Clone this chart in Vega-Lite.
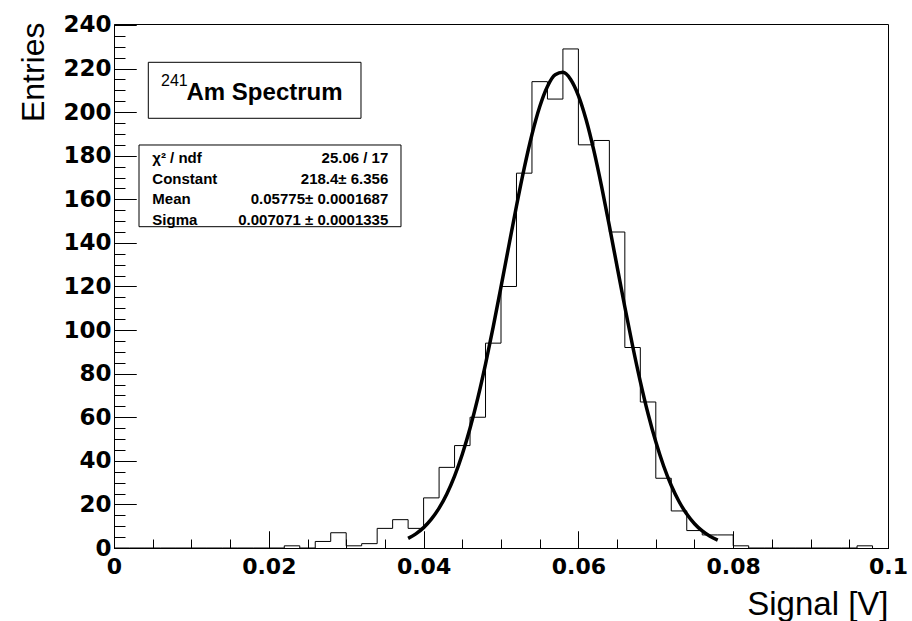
{
  "$schema": "https://vega.github.io/schema/vega-lite/v6.json",
  "width": 774,
  "height": 524,
  "autosize": {"type": "none"},
  "padding": {"left": 114, "top": 24, "right": 24, "bottom": 73},
  "background": "#ffffff",
  "config": {
    "view": {"stroke": "#000000", "strokeWidth": 1},
    "axis": {"domainColor": "#000000", "domainWidth": 1, "tickColor": "#000000", "tickWidth": 1, "labelColor": "#000000", "titleColor": "#000000", "grid": false, "labelFlush": false, "labelOverlap": false}
  },
  "datasets": {
    "hist": [
      {"lo": 0.000, "n": 0}, {"lo": 0.002, "n": 0}, {"lo": 0.004, "n": 0}, {"lo": 0.006, "n": 0}, {"lo": 0.008, "n": 0},
      {"lo": 0.010, "n": 0}, {"lo": 0.012, "n": 0}, {"lo": 0.014, "n": 0}, {"lo": 0.016, "n": 0}, {"lo": 0.018, "n": 0},
      {"lo": 0.020, "n": 0}, {"lo": 0.022, "n": 1}, {"lo": 0.024, "n": 0}, {"lo": 0.026, "n": 3}, {"lo": 0.028, "n": 7},
      {"lo": 0.030, "n": 1}, {"lo": 0.032, "n": 2}, {"lo": 0.034, "n": 9}, {"lo": 0.036, "n": 13}, {"lo": 0.038, "n": 9},
      {"lo": 0.040, "n": 23}, {"lo": 0.042, "n": 37}, {"lo": 0.044, "n": 47}, {"lo": 0.046, "n": 60}, {"lo": 0.048, "n": 94},
      {"lo": 0.050, "n": 120}, {"lo": 0.052, "n": 172}, {"lo": 0.054, "n": 214}, {"lo": 0.056, "n": 206}, {"lo": 0.058, "n": 229},
      {"lo": 0.060, "n": 185}, {"lo": 0.062, "n": 187}, {"lo": 0.064, "n": 145}, {"lo": 0.066, "n": 92}, {"lo": 0.068, "n": 67},
      {"lo": 0.070, "n": 32}, {"lo": 0.072, "n": 17}, {"lo": 0.074, "n": 8}, {"lo": 0.076, "n": 6}, {"lo": 0.078, "n": 6},
      {"lo": 0.080, "n": 1}, {"lo": 0.082, "n": 0}, {"lo": 0.084, "n": 0}, {"lo": 0.086, "n": 0}, {"lo": 0.088, "n": 0},
      {"lo": 0.090, "n": 0}, {"lo": 0.092, "n": 0}, {"lo": 0.094, "n": 0}, {"lo": 0.096, "n": 1}, {"lo": 0.098, "n": 0}
    ],
    "fit": [
      {"x": 0.038, "f": 4.42}, {"x": 0.039, "f": 6.49}, {"x": 0.040, "f": 9.35}, {"x": 0.041, "f": 13.21}, {"x": 0.042, "f": 18.28},
      {"x": 0.043, "f": 24.80}, {"x": 0.044, "f": 32.97}, {"x": 0.045, "f": 42.98}, {"x": 0.046, "f": 54.92}, {"x": 0.047, "f": 68.76},
      {"x": 0.048, "f": 84.41}, {"x": 0.049, "f": 101.57}, {"x": 0.050, "f": 119.79}, {"x": 0.051, "f": 138.48}, {"x": 0.052, "f": 156.92},
      {"x": 0.053, "f": 174.29}, {"x": 0.054, "f": 189.75}, {"x": 0.055, "f": 202.50}, {"x": 0.056, "f": 211.81}, {"x": 0.057, "f": 217.17},
      {"x": 0.058, "f": 218.26}, {"x": 0.059, "f": 215.01}, {"x": 0.060, "f": 207.62}, {"x": 0.061, "f": 196.51}, {"x": 0.062, "f": 182.31},
      {"x": 0.063, "f": 165.79}, {"x": 0.064, "f": 147.79}, {"x": 0.065, "f": 129.12}, {"x": 0.066, "f": 110.58}, {"x": 0.067, "f": 92.82},
      {"x": 0.068, "f": 76.38}, {"x": 0.069, "f": 61.60}, {"x": 0.070, "f": 48.70}, {"x": 0.071, "f": 37.74}, {"x": 0.072, "f": 28.66},
      {"x": 0.073, "f": 21.34}, {"x": 0.074, "f": 15.58}, {"x": 0.075, "f": 11.14}, {"x": 0.076, "f": 7.81}, {"x": 0.077, "f": 5.37},
      {"x": 0.078, "f": 3.62}
    ]
  },
  "layer": [
    {
      "data": {"name": "hist"},
      "mark": {"type": "line", "interpolate": "step-after", "color": "#000000", "strokeWidth": 1},
      "encoding": {
        "x": {
          "field": "lo", "type": "quantitative",
          "scale": {"domain": [0, 0.1], "nice": false, "zero": false},
          "axis": {
            "orient": "bottom",
            "values": [0, 0.02, 0.04, 0.06, 0.08, 0.1], "format": "~g",
            "tickSize": -17, "labelPadding": 25,
            "labelFont": "DejaVu Sans", "labelFontWeight": "bold", "labelFontSize": 22,
            "title": "Signal [V]", "titleFont": "Liberation Sans", "titleFontSize": 33, "titleFontWeight": "normal",
            "titleX": 774, "titleY": 66, "titleAlign": "right", "titleBaseline": "alphabetic"
          }
        },
        "y": {
          "field": "n", "type": "quantitative",
          "scale": {"domain": [0, 240.45], "nice": false, "zero": false},
          "axis": {
            "orient": "left",
            "values": [0, 20, 40, 60, 80, 100, 120, 140, 160, 180, 200, 220, 240], "format": "d",
            "tickSize": -22, "labelPadding": 25,
            "labelFont": "DejaVu Sans", "labelFontWeight": "bold", "labelFontSize": 23,
            "title": "Entries", "titleFont": "Liberation Sans", "titleFontSize": 32, "titleFontWeight": "normal",
            "titleAngle": 270, "titleX": -70.5, "titleY": -2, "titleAlign": "right", "titleBaseline": "alphabetic"
          }
        }
      }
    },
    {
      "data": {"name": "fit"},
      "mark": {"type": "line", "interpolate": "monotone", "color": "#000000", "strokeWidth": 3.5},
      "encoding": {
        "x": {
          "field": "x", "type": "quantitative",
          "axis": {
            "orient": "bottom",
            "values": [0, 0.005, 0.01, 0.015, 0.02, 0.025, 0.03, 0.035, 0.04, 0.045, 0.05, 0.055, 0.06, 0.065, 0.07, 0.075, 0.08, 0.085, 0.09, 0.095, 0.1],
            "tickSize": -9, "labels": false, "domain": false, "title": null
          }
        },
        "y": {
          "field": "f", "type": "quantitative",
          "axis": {
            "orient": "left",
            "values": [0, 5, 10, 15, 20, 25, 30, 35, 40, 45, 50, 55, 60, 65, 70, 75, 80, 85, 90, 95, 100, 105, 110, 115, 120, 125, 130, 135, 140, 145, 150, 155, 160, 165, 170, 175, 180, 185, 190, 195, 200, 205, 210, 215, 220, 225, 230, 235, 240],
            "tickSize": -11, "labels": false, "domain": false, "title": null
          }
        }
      }
    },
    {
      "data": {"values": [{}]},
      "mark": {"type": "rect", "fill": "#ffffff", "stroke": "#000000", "strokeWidth": 1},
      "encoding": {
        "x": {"datum": 0.004432, "type": "quantitative", "axis": {"orient": "bottom", "values": [0, 0.02, 0.04, 0.06, 0.08, 0.1], "tickSize": -17, "labels": false, "domain": false, "title": null}},
        "x2": {"datum": 0.031912},
        "y": {"datum": 222.87, "type": "quantitative", "axis": {"orient": "left", "values": [0, 20, 40, 60, 80, 100, 120, 140, 160, 180, 200, 220, 240], "tickSize": -22, "labels": false, "domain": false, "title": null}},
        "y2": {"datum": 197.18}
      }
    },
    {
      "data": {"values": [{}]},
      "mark": {"type": "rect", "fill": "#ffffff", "stroke": "#000000", "strokeWidth": 1},
      "encoding": {
        "x": {"datum": 0.00323, "type": "quantitative", "axis": null},
        "x2": {"datum": 0.03708},
        "y": {"datum": 184.93, "type": "quantitative", "axis": null},
        "y2": {"datum": 147.44}
      }
    },
    {
      "data": {"values": [{}]},
      "mark": {"type": "text", "text": "Am Spectrum", "font": "Liberation Sans", "fontWeight": "bold", "fontSize": 24, "align": "left", "baseline": "alphabetic", "color": "#000000"},
      "encoding": {
        "x": {"datum": 0.00937, "type": "quantitative", "axis": null},
        "y": {"datum": 205.57, "type": "quantitative", "axis": null}
      }
    },
    {
      "data": {"values": [{}]},
      "mark": {"type": "text", "text": "241", "font": "Liberation Sans", "fontWeight": "normal", "fontSize": 16, "align": "left", "baseline": "alphabetic", "color": "#000000"},
      "encoding": {
        "x": {"datum": 0.00607, "type": "quantitative", "axis": null},
        "y": {"datum": 212.14, "type": "quantitative", "axis": null}
      }
    },
    {
      "data": {"values": [{}]},
      "mark": {"type": "text", "text": ["χ² / ndf", "Constant", "Mean", "Sigma"], "lineHeight": 20.6, "font": "Liberation Sans", "fontWeight": "bold", "fontSize": 15, "align": "left", "baseline": "alphabetic", "color": "#000000"},
      "encoding": {
        "x": {"datum": 0.004948, "type": "quantitative", "axis": null},
        "y": {"datum": 176.53, "type": "quantitative", "axis": null}
      }
    },
    {
      "data": {"values": [{}]},
      "mark": {"type": "text", "text": ["25.06 / 17", "218.4± 6.356", "0.05775± 0.0001687", "0.007071 ± 0.0001335"], "lineHeight": 20.6, "font": "Liberation Sans", "fontWeight": "bold", "fontSize": 15, "align": "right", "baseline": "alphabetic", "color": "#000000"},
      "encoding": {
        "x": {"datum": 0.035439, "type": "quantitative", "axis": null},
        "y": {"datum": 176.53, "type": "quantitative", "axis": null}
      }
    }
  ],
  "resolve": {"axis": {"x": "independent", "y": "independent"}}
}
